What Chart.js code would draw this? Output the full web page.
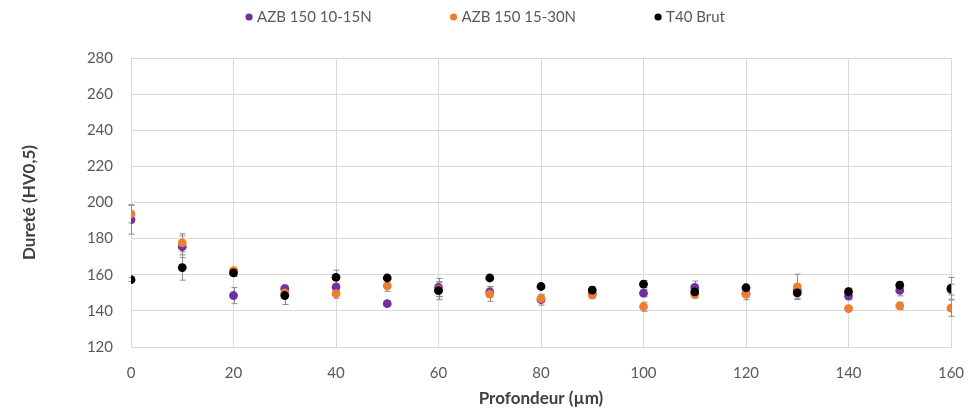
<!DOCTYPE html>
<html>
<head>
<meta charset="utf-8">
<script src="https://cdn.jsdelivr.net/npm/chart.js@4.4.1/dist/chart.umd.min.js"></script>
<style>
  html, body { margin: 0; padding: 0; background: #ffffff; }
  #wrap { width: 970px; height: 414px; position: relative; }
</style>
</head>
<body>
<div id="wrap"><canvas id="c" width="970" height="414"></canvas></div>
<script>
// ---- Data ----
const depth = [0, 10, 20, 30, 40, 50, 60, 70, 80, 90, 100, 110, 120, 130, 140, 150, 160];
const seriesNames = ['AZB 150 10-15N', 'AZB 150 15-30N', 'T40 Brut'];
const azb1015 = [190.5, 175.5, 148.5, 152.3, 153.2, 144.0, 153.0, 150.5, 146.2, 149.5, 149.8, 153.0, 149.5, 151.5, 148.2, 151.3, 151.8];
const err1015 = [8, 6, 4.5, 2, 2, 1, 5, 3, 3, 2, 2, 3.5, 2, 3, 2, 3, 3];
const azb1530 = [193.7, 177.7, 162.3, 150.0, 149.5, 153.8, 151.8, 149.3, 146.8, 148.8, 142.3, 149.0, 149.2, 153.3, 141.3, 142.8, 141.5];
const err1530 = [5, 5, 1, 2, 2.5, 3, 4, 4, 2, 2, 2.5, 2, 3, 7, 1, 2, 4.5];
const t40 = [157.3, 164.0, 161.0, 148.5, 158.5, 158.2, 151.2, 158.2, 153.5, 151.5, 154.8, 150.5, 152.8, 150.0, 150.6, 154.2, 152.5];
const errT40 = [1, 7, 2, 5, 4, 1.5, 5, 1.5, 1.5, 2, 2, 1.5, 1.5, 3, 2, 2, 6];
const xTicks = [0, 20, 40, 60, 80, 100, 120, 140, 160];
const yTicks = [120, 140, 160, 180, 200, 220, 240, 260, 280];
const xTitle = 'Profondeur (µm)';
const yTitle = 'Dureté (HV0,5)';

const colors = ['#7030a0', '#ed7d31', '#000000'];
const FONT = 'Lato, "Open Sans", "Liberation Sans", sans-serif';

const toPts = (vals) => vals.map((v, i) => ({ x: depth[i], y: v }));
const errs = [err1015, err1530, errT40];

const errorBars = {
  id: 'errorBars',
  beforeDatasetsDraw(chart) {
    const { ctx, scales: { x, y } } = chart;
    ctx.save();
    ctx.strokeStyle = '#8c8c8c';
    ctx.lineWidth = 1;
    chart.data.datasets.forEach((ds, di) => {
      const e = errs[di];
      ds.data.forEach((p, i) => {
        const px = Math.round(x.getPixelForValue(p.x)) + 0.5;
        const top = y.getPixelForValue(p.y + e[i]);
        const bot = y.getPixelForValue(p.y - e[i]);
        ctx.beginPath();
        ctx.moveTo(px, top); ctx.lineTo(px, bot);
        ctx.moveTo(px - 3, top); ctx.lineTo(px + 3, top);
        ctx.moveTo(px - 3, bot); ctx.lineTo(px + 3, bot);
        ctx.stroke();
      });
    });
    ctx.restore();
  }
};

const customLegend = {
  id: 'customLegend',
  afterDraw(chart) {
    const ctx = chart.ctx;
    ctx.save();
    ctx.font = '15px ' + FONT;
    ctx.textBaseline = 'middle';
    const gap = 78, dotSpace = 12;
    const widths = chart.data.datasets.map(d => ctx.measureText(d.label).width);
    const total = widths.reduce((a, b) => a + b, 0) + dotSpace * widths.length + gap * (widths.length - 1);
    let xPos = chart.width / 2 - total / 2;
    const yc = 17;
    chart.data.datasets.forEach((d, i) => {
      ctx.fillStyle = d.backgroundColor;
      ctx.beginPath();
      ctx.arc(xPos + 4, yc, 3.6, 0, Math.PI * 2);
      ctx.fill();
      ctx.fillStyle = '#595959';
      ctx.textAlign = 'left';
      ctx.fillText(d.label, xPos + dotSpace, yc);
      xPos += dotSpace + widths[i] + gap;
    });
    ctx.restore();
  }
};

new Chart(document.getElementById('c'), {
  type: 'scatter',
  data: {
    datasets: [
      { label: seriesNames[0], data: toPts(azb1015), backgroundColor: colors[0], borderColor: colors[0], pointRadius: 4.4, pointHoverRadius: 4.4, borderWidth: 0, order: 2 },
      { label: seriesNames[1], data: toPts(azb1530), backgroundColor: colors[1], borderColor: colors[1], pointRadius: 4.4, pointHoverRadius: 4.4, borderWidth: 0, order: 1 },
      { label: seriesNames[2], data: toPts(t40), backgroundColor: colors[2], borderColor: colors[2], pointRadius: 4.4, pointHoverRadius: 4.4, borderWidth: 0, order: 0 }
    ]
  },
  options: {
    responsive: false,
    animation: false,
    devicePixelRatio: 1,
    layout: { padding: { top: 58, right: 19, left: 0, bottom: 0 } },
    plugins: { legend: { display: false }, tooltip: { enabled: false } },
    scales: {
      x: {
        type: 'linear', min: 0, max: 160,
        afterBuildTicks: (s) => { s.ticks = xTicks.map(v => ({ value: v })); },
        afterFit: (s) => { s.height = 67; s.paddingRight = 0; },
        grid: { color: '#d9d9d9', lineWidth: 1, drawTicks: false },
        border: { color: '#d9d9d9' },
        ticks: { color: '#595959', font: { family: FONT, size: 15 }, padding: 17, maxRotation: 0 },
        title: { display: true, text: xTitle, color: '#404040', font: { family: FONT, size: 17, weight: 'bold' }, padding: { top: 0, bottom: 5 } }
      },
      y: {
        type: 'linear', min: 120, max: 280,
        afterBuildTicks: (s) => { s.ticks = yTicks.map(v => ({ value: v })); },
        afterFit: (s) => { s.width = 131; },
        grid: { color: '#d9d9d9', lineWidth: 1, drawTicks: false },
        border: { color: '#d9d9d9' },
        ticks: { color: '#595959', font: { family: FONT, size: 15 }, padding: 18 },
        title: { display: true, text: yTitle, color: '#404040', font: { family: FONT, size: 17, weight: 'bold' }, padding: { top: 19, bottom: 0 } }
      }
    }
  },
  plugins: [errorBars, customLegend]
});
</script>
</body>
</html>
